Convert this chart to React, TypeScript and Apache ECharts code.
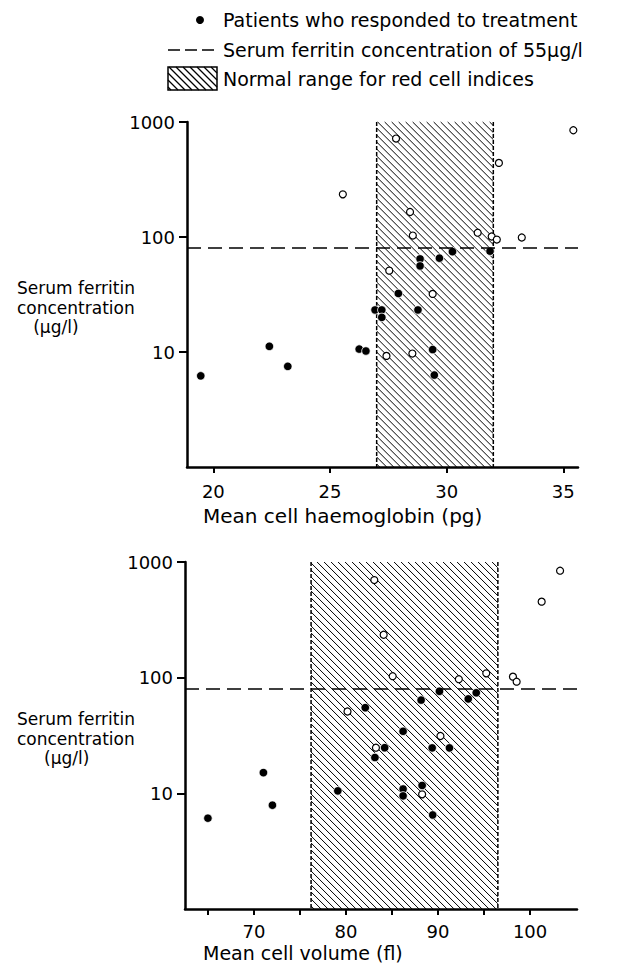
import React, { useEffect, useRef } from "react";
import * as echarts from "echarts";

// Top panel: mean cell haemoglobin (pg) vs serum ferritin (µg/l)
const mchRespondedX = [19.46, 22.4, 23.19, 26.25, 26.54, 26.93, 27.22, 27.22, 27.93, 28.77, 28.86, 28.86, 29.4, 29.47, 29.69, 30.25, 31.86];
const mchRespondedFerritin = [6.2, 11.2, 7.5, 10.6, 10.2, 23.2, 23.2, 20.0, 32.3, 23.2, 64.5, 56, 10.5, 6.3, 65.5, 74.6, 75.3];
const mchOtherX = [25.55, 27.83, 28.43, 28.55, 27.54, 29.4, 27.42, 28.53, 31.33, 31.93, 32.15, 32.24, 33.22, 35.43];
const mchOtherFerritin = [235, 718, 165, 103, 51, 32, 9.25, 9.7, 109, 101, 95, 441, 99, 848];

// Bottom panel: mean cell volume (fl) vs serum ferritin (µg/l)
const mcvRespondedX = [64.99, 71.02, 72.0, 79.11, 82.09, 83.14, 84.2, 86.2, 86.2, 86.2, 88.16, 88.27, 89.36, 89.42, 90.15, 91.24, 93.28, 94.15];
const mcvRespondedFerritin = [6.1, 15.1, 7.9, 10.5, 55, 20.4, 24.8, 34.4, 10.9, 9.5, 64, 11.7, 24.7, 6.5, 76.3, 24.7, 65.5, 74];
const mcvOtherX = [80.16, 83.07, 83.25, 84.09, 85.07, 88.27, 90.26, 92.26, 95.24, 98.14, 98.54, 101.26, 103.26];
const mcvOtherFerritin = [51, 698, 24.8, 235, 103, 9.8, 31.3, 97, 109, 102, 92.3, 454, 841];

// Normal ranges for red cell indices, and ferritin threshold line
const mchNormalRange = [27, 32];
const mcvNormalRange = [76.2, 96.5];
const ferritinLine = 80;
const ferritinExtent = [1, 1000];

// Ticks and labels
const mchTicks = [20, 25, 30, 35];
const mcvTicks = [65, 70, 75, 80, 85, 90, 95, 100];
const mcvLabels = [70, 80, 90, 100];
const ferritinTicks = [10, 100, 1000];

const FONT = "DejaVu Sans";

const zip = (xs: number[], ys: number[]) => xs.map((x, i) => [x, ys[i]]);

function hatchRenderItem(params: any, api: any) {
  const x0 = api.value(0), x1 = api.value(1), yTop = api.value(2), yBot = api.value(3);
  const p0 = api.coord([x0, yTop]);
  const p1 = api.coord([x1, yBot]);
  const left = p0[0], top = p0[1], right = p1[0], bottom = p1[1];
  const step = 7;
  const children: any[] = [];
  const cMin = left - bottom;
  const cMax = right - top;
  for (let c = cMin + 3; c <= cMax; c += step) {
    const xs = Math.max(left, top + c);
    const xe = Math.min(right, bottom + c);
    if (xe > xs) {
      children.push({
        type: "line",
        shape: { x1: xs, y1: xs - c, x2: xe, y2: xe - c },
        style: { stroke: "#000", lineWidth: 1 },
      });
    }
  }
  [left, right].forEach((x) =>
    children.push({
      type: "line",
      shape: { x1: x, y1: top, x2: x, y2: bottom },
      style: { stroke: "#000", lineWidth: 1.5, lineDash: [4, 2] },
    })
  );
  return { type: "group", children };
}

function legendHatch(x0: number, y0: number, w: number, h: number) {
  const children: any[] = [];
  const step = 7;
  const left = x0, top = y0, right = x0 + w, bottom = y0 + h;
  for (let c = left - bottom + 3; c <= right - top; c += step) {
    const xs = Math.max(left, top + c);
    const xe = Math.min(right, bottom + c);
    if (xe > xs) {
      children.push({
        type: "line",
        shape: { x1: xs, y1: xs - c, x2: xe, y2: xe - c },
        style: { stroke: "#000", lineWidth: 1.3 },
      });
    }
  }
  children.push({
    type: "rect",
    shape: { x: x0, y: y0, width: w, height: h },
    style: { fill: "none", stroke: "#000", lineWidth: 1.5 },
  });
  return { type: "group", children };
}

const txt = (text: string, x: number, y: number, size = 19, lineHeight?: number) => ({
  type: "text",
  x,
  y,
  style: {
    text,
    fill: "#000",
    font: `${size}px "${FONT}"`,
    lineHeight: lineHeight ?? size + 2,
    textVerticalAlign: "middle",
    verticalAlign: "middle",
    align: "left",
  },
});

export default function App() {
  const ref = useRef<HTMLDivElement>(null);
  useEffect(() => {
    if (!ref.current) return;
    const chart = echarts.init(ref.current, null, { renderer: "svg" });

    const axisLine = { show: true, lineStyle: { color: "#000", width: 2.5 } };
    const xAxisBase = (min: number, max: number, ticks: number[], labels: number[], grid: number, margin: number) => ({
      type: "value",
      gridIndex: grid,
      min,
      max,
      axisLine,
      axisTick: { show: true, customValues: ticks, length: 6, lineStyle: { color: "#000", width: 2 } },
      axisLabel: { customValues: labels, color: "#000", fontSize: 18, fontFamily: FONT, margin },
      splitLine: { show: false },
    });
    const yAxisBase = (grid: number) => ({
      type: "log",
      logBase: 10,
      gridIndex: grid,
      min: ferritinExtent[0],
      max: ferritinExtent[1],
      axisLine,
      axisTick: { show: true, customValues: ferritinTicks, length: 8, lineStyle: { color: "#000", width: 2 } },
      axisLabel: {
        customValues: ferritinTicks,
        color: "#000",
        fontSize: 18,
        fontFamily: FONT,
        margin: 12,
        formatter: (v: number) => String(Math.round(v)),
      },
      splitLine: { show: false },
    });

    const dashLine = {
      silent: true,
      symbol: ["none", "none"],
      label: { show: false },
      lineStyle: { color: "#000", width: 1.6, type: [14, 7], opacity: 1 },
      data: [{ yAxis: ferritinLine }],
    };

    const seriesFor = (grid: number, range: number[], rx: number[], ry: number[], ox: number[], oy: number[]) => [
      {
        type: "custom",
        xAxisIndex: grid,
        yAxisIndex: grid,
        renderItem: hatchRenderItem,
        data: [[range[0], range[1], ferritinExtent[1], ferritinExtent[0]]],
        encode: { x: [0, 1], y: [2, 3] },
        z: 1,
        silent: true,
      },
      {
        type: "scatter",
        xAxisIndex: grid,
        yAxisIndex: grid,
        data: zip(ox, oy),
        symbol: "circle",
        symbolSize: 7,
        itemStyle: { color: "#fff", borderColor: "#000", borderWidth: 1.2, opacity: 1 },
        z: 3,
      },
      {
        type: "scatter",
        xAxisIndex: grid,
        yAxisIndex: grid,
        data: zip(rx, ry),
        symbol: "circle",
        symbolSize: 8.5,
        itemStyle: { color: "#000", borderColor: "#fff", borderWidth: 0.8, opacity: 1 },
        markLine: dashLine,
        z: 4,
      },
    ];

    chart.setOption({
      animation: false,
      backgroundColor: "#fff",
      textStyle: { fontFamily: FONT },
      grid: [
        { left: 187, top: 122, width: 391, height: 345 },
        { left: 185, top: 562, width: 392, height: 347 },
      ],
      xAxis: [
        xAxisBase(18.87, 35.63, mchTicks, mchTicks, 0, 15),
        xAxisBase(62.5, 105.1, mcvTicks, mcvLabels, 1, 13),
      ],
      yAxis: [yAxisBase(0), yAxisBase(1)],
      series: [
        ...seriesFor(0, mchNormalRange, mchRespondedX, mchRespondedFerritin, mchOtherX, mchOtherFerritin),
        ...seriesFor(1, mcvNormalRange, mcvRespondedX, mcvRespondedFerritin, mcvOtherX, mcvOtherFerritin),
      ],
      graphic: [
        // legend
        { type: "circle", shape: { cx: 200, cy: 20, r: 4 }, style: { fill: "#000" } },
        txt("Patients who responded to treatment", 223, 20),
        {
          type: "line",
          shape: { x1: 168, y1: 50, x2: 215, y2: 50 },
          style: { stroke: "#000", lineWidth: 1.6, lineDash: [12, 5] },
        },
        txt("Serum ferritin concentration of 55μg/l", 223, 50),
        legendHatch(168, 67, 49, 23),
        txt("Normal range for red cell indices", 223, 79),
        // axis titles, top
        txt("Serum ferritin\nconcentration\n   (μg/l)", 17, 307.5, 17, 19.5),
        txt("Mean cell haemoglobin (pg)", 203, 516, 20),
        // axis titles, bottom
        txt("Serum ferritin\nconcentration\n     (μg/l)", 17, 738.5, 17, 19.5),
        txt("Mean cell volume (fl)", 203, 953, 19),
      ],
    });
    return () => chart.dispose();
  }, []);
  return (
    <div
      ref={ref}
      style={{ position: "absolute", left: 0, top: 0, width: 617, height: 965, background: "#fff" }}
    />
  );
}
